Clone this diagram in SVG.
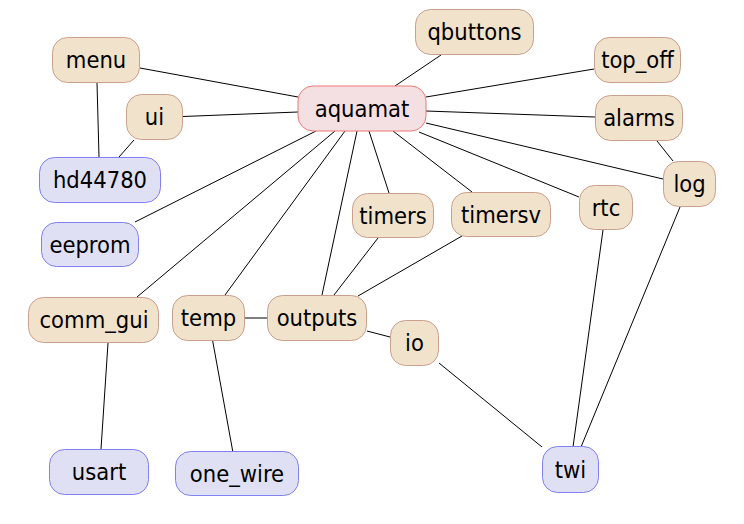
<svg xmlns="http://www.w3.org/2000/svg" width="744" height="524" viewBox="0 0 744 524">
<style>
.e line{stroke:#000;stroke-width:1;fill:none}
.n rect{stroke-width:1}
.m rect{fill:#f1e2cb;stroke:#c9a08c}
.h rect{fill:#e0e0f4;stroke:#8080f0}
.r rect{fill:#f4dfe2;stroke:#f07878}
text{font-family:"DejaVu Sans Condensed","DejaVu Sans",sans-serif;font-stretch:condensed;font-size:23.5px;text-anchor:middle;fill:#000}
</style>
<rect width="744" height="524" fill="#fff"/>
<g id="edges" class="e">
<line x1="140" y1="68" x2="298" y2="97"/>
<line x1="183" y1="116.5" x2="298" y2="112"/>
<line x1="97" y1="83" x2="99" y2="157"/>
<line x1="134" y1="140" x2="119" y2="157"/>
<line x1="441" y1="55" x2="395" y2="86"/>
<line x1="594" y1="69" x2="426" y2="97"/>
<line x1="426" y1="111" x2="595" y2="117"/>
<line x1="426" y1="123" x2="663" y2="179"/>
<line x1="419" y1="132" x2="579" y2="197"/>
<line x1="393" y1="131" x2="472" y2="192"/>
<line x1="369" y1="131" x2="389" y2="193"/>
<line x1="357" y1="131" x2="322" y2="295"/>
<line x1="345" y1="131" x2="225" y2="295"/>
<line x1="335" y1="131" x2="137" y2="297"/>
<line x1="316" y1="131" x2="135" y2="222"/>
<line x1="657" y1="141" x2="673" y2="161"/>
<line x1="680" y1="207" x2="581" y2="447"/>
<line x1="603" y1="230" x2="573" y2="447"/>
<line x1="439" y1="363" x2="542" y2="447"/>
<line x1="378" y1="238" x2="334" y2="295"/>
<line x1="462" y1="236" x2="358" y2="296"/>
<line x1="245" y1="318" x2="267" y2="318"/>
<line x1="367" y1="331" x2="390" y2="337"/>
<line x1="108" y1="343" x2="101" y2="449"/>
<line x1="212.7" y1="341" x2="232.7" y2="451"/>
</g>
<g id="aquamat" class="n r"><rect x="298" y="86" width="128" height="45" rx="15"/><text x="362" y="116.5">aquamat</text></g>
<g id="menu" class="n m"><rect x="52.5" y="37.5" width="87" height="45" rx="15"/><text x="96" y="68">menu</text></g>
<g id="qbuttons" class="n m"><rect x="415.5" y="9.5" width="118" height="45" rx="15"/><text x="474.5" y="40">qbuttons</text></g>
<g id="top_off" class="n m"><rect x="594.5" y="37.5" width="86" height="45" rx="15"/><text x="637.5" y="68">top_off</text></g>
<g id="ui" class="n m"><rect x="126.5" y="94.5" width="56" height="45" rx="15"/><text x="154.5" y="125">ui</text></g>
<g id="alarms" class="n m"><rect x="595.5" y="95.5" width="87" height="45" rx="15"/><text x="639" y="126">alarms</text></g>
<g id="hd44780" class="n h"><rect x="39.5" y="157.5" width="121" height="45" rx="15"/><text x="100" y="188">hd44780</text></g>
<g id="log" class="n m"><rect x="663.5" y="161.5" width="52" height="45" rx="15"/><text x="689.5" y="192">log</text></g>
<g id="timers" class="n m"><rect x="352.5" y="193.5" width="81" height="44" rx="15"/><text x="393" y="223.5">timers</text></g>
<g id="timersv" class="n m"><rect x="451.5" y="192.5" width="99" height="44" rx="15"/><text x="501" y="222.5">timersv</text></g>
<g id="rtc" class="n m"><rect x="579.5" y="185.5" width="53" height="44" rx="15"/><text x="606" y="215.5">rtc</text></g>
<g id="eeprom" class="n h"><rect x="41.5" y="222.5" width="97" height="44" rx="15"/><text x="90" y="252.5">eeprom</text></g>
<g id="comm_gui" class="n m"><rect x="28.5" y="297.5" width="130" height="45" rx="15"/><text x="94" y="328">comm_gui</text></g>
<g id="temp" class="n m"><rect x="172.5" y="295.5" width="72" height="45" rx="15"/><text x="208.5" y="326">temp</text></g>
<g id="outputs" class="n m"><rect x="267.5" y="295.5" width="99" height="45" rx="15"/><text x="317" y="326">outputs</text></g>
<g id="io" class="n m"><rect x="390.5" y="320.5" width="48" height="45" rx="15"/><text x="414.5" y="351">io</text></g>
<g id="usart" class="n h"><rect x="49.5" y="449.5" width="99" height="45" rx="15"/><text x="99" y="480">usart</text></g>
<g id="one_wire" class="n h"><rect x="175.5" y="451.5" width="123" height="44" rx="15"/><text x="237" y="481.5">one_wire</text></g>
<g id="twi" class="n h"><rect x="542.5" y="446.5" width="56" height="46" rx="15"/><text x="570.5" y="477.5">twi</text></g>
</svg>
